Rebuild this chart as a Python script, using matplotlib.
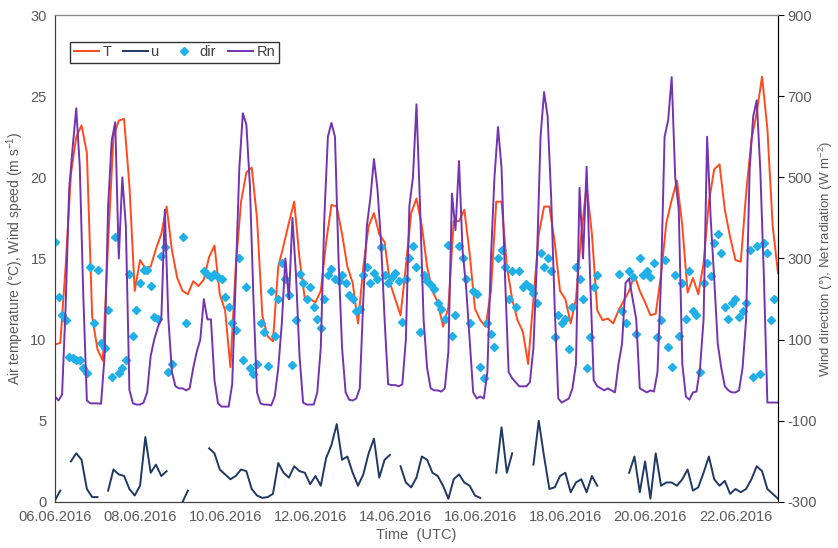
import numpy as np
import pandas as pd
import matplotlib
matplotlib.use('Agg')
import matplotlib.pyplot as plt
from matplotlib.lines import Line2D

plt.rcParams['font.family'] = ['Liberation Sans', 'DejaVu Sans']
plt.rcParams['mathtext.default'] = 'regular'
plt.rcParams['axes.unicode_minus'] = False

nan = np.nan

# air temperature (degC), 3-hourly from 06.06.2016 00:00, one row per day
T = [9.7, 9.8, 14.5, 20.2, 22.5, 23.2, 21.5, 11.4,
     9.4, 8.7, 16.0, 22.5, 23.5, 23.6, 19.5, 13.0,
     14.9, 14.4, 14.5, 15.6, 16.5, 18.2, 15.5, 13.8,
     13.0, 12.8, 13.6, 13.3, 13.7, 15.1, 15.8, 12.8,
     11.8, 8.3, 14.5, 18.5, 20.3, 20.6, 17.5, 11.5,
     10.2, 9.9, 14.5, 15.8, 17.2, 18.5, 15.0, 12.5,
     12.5, 12.3, 13.0, 16.0, 18.3, 18.2, 16.5, 14.5,
     13.5, 11.0, 14.5, 17.0, 17.8, 16.5, 16.0, 13.5,
     12.5, 11.5, 14.5, 17.8, 18.7, 17.0, 14.5, 13.0,
     12.3, 10.8, 12.0, 17.3, 17.3, 18.0, 15.3, 11.9,
     11.2, 10.8, 13.0, 18.5, 18.5, 14.5, 12.5, 11.2,
     10.5, 8.5, 12.5, 16.5, 18.2, 18.2, 16.0, 13.0,
     12.5, 11.0, 12.5, 16.5, 19.5, 16.5, 11.8, 11.2,
     11.3, 11.0, 11.8, 12.4, 13.0, 14.0, 13.0, 12.3,
     11.5, 11.6, 14.0, 17.2, 18.6, 19.8, 17.0, 12.9,
     13.8, 12.8, 14.7, 18.5, 20.5, 20.8, 18.0, 16.3,
     14.9, 14.8, 19.0, 22.3, 24.0, 26.2, 23.0, 17.0,
     14.1]

# wind speed (m/s), 3-hourly, gaps = missing data
u = [0.1, 0.7, nan, 2.5, 3.0, 2.6, 0.8, 0.3,
     0.3, nan, 0.7, 2.0, 1.7, 1.6, 0.8, 0.4,
     1.0, 4.0, 1.8, 2.3, 1.6, 1.9, nan, nan,
     0.0, 0.7, nan, nan, nan, 3.3, 3.0, 2.0,
     1.7, 1.4, 1.6, 2.0, 1.9, 0.8, 0.4, 0.25,
     0.3, 0.5, 2.4, 1.8, 1.5, 2.2, 1.9, 1.8,
     1.1, 1.6, 1.0, 2.7, 3.5, 4.8, 2.6, 2.8,
     1.8, 1.0, 1.7, 3.0, 3.9, 1.5, 2.6, 2.9,
     nan, 2.2, 1.2, 0.9, 1.5, 2.8, 2.6, 1.8,
     1.6, 1.0, 0.2, 1.4, 1.7, 1.2, 1.0, 0.4,
     0.25, nan, nan, 1.8, 4.6, 1.8, 3.0, nan,
     nan, nan, 2.3, 5.0, 2.8, 0.8, 0.9, 1.6,
     1.8, 0.6, 1.2, 1.4, 0.6, 1.6, 1.0, nan,
     nan, nan, 2.2, nan, 1.8, 2.8, 0.6, 2.5,
     0.2, 3.0, 1.0, 1.2, 1.2, 1.0, 1.4, 2.0,
     0.7, 0.9, 1.8, 2.8, 1.4, 1.0, 1.3, 0.5,
     0.8, 0.6, 0.8, 1.4, 2.2, 1.9, 0.8, 0.5,
     0.2]

# net radiation (W/m2), 2-hourly
Rn = [-40, -50, -35, 180, 470, 575, 670, 526, 206, -50, -57, -57,
      -57, -58, 60, 430, 590, 636, 300, 500, 380, -24, -57, -60,
      -60, -55, -30, 60, 100, 130, 150, 420, 150, 20, -15, -20,
      -20, -25, -20, 30, 70, 100, 200, 150, 150, 0, -57, -65,
      -65, -65, -10, 250, 520, 658, 630, 480, 200, -30, -57, -60,
      -60, -62, -40, 30, 140, 300, 200, 400, 260, 60, -55, -60,
      -60, -60, -30, 80, 400, 600, 634, 600, 300, 80, -30, -48,
      -50, -45, -20, 200, 380, 450, 545, 470, 340, 150, -10, -12,
      -12, -15, -10, 100, 430, 500, 680, 430, 150, 30, -20, -25,
      -25, -28, -20, 70, 460, 370, 540, 320, 230, 100, -30, -45,
      -40, -45, 20, 300, 500, 624, 523, 250, 20, 5, -5, -15,
      -15, -15, -5, 80, 300, 600, 710, 650, 450, 180, -45, -55,
      -50, -45, -20, 40, 474, 300, 526, 250, 0, -15, -20, -25,
      -20, -25, -30, 40, 90, 240, 250, 200, 150, -20, -25, -30,
      -25, -28, 20, 250, 600, 640, 747, 500, 420, 40, -40, -48,
      -30, -28, 30, 150, 600, 400, 250, 90, 30, -15, -25, -30,
      -30, -25, 30, 150, 520, 650, 690, 520, 260, -55, -55, -55,
      -55]

# wind direction (deg), 2-hourly
wdir = [341, 206, 160, 148, 58, 55, 50, 50, 30, 17, 280, 140,
        272, 91, 80, 173, 9, 354, 17, 30, 50, 263, 110, 173,
        239, 272, 272, 231, 157, 150, 305, 329, 20, 40, nan, nan,
        354, 140, nan, nan, nan, nan, 270, 263, 255, 263, 255, 250,
        206, 181, 140, 124, 300, 50, 230, 30, 15, 40, 140, 120,
        34, 220, 110, 200, 290, 250, 210, 37, 148, 263, 240, 200,
        230, 180, 150, 128, 200, 260, 275, 250, 245, 260, 240, 210,
        200, 170, 175, 260, 280, 240, 265, 250, 329, 260, 240, 255,
        265, 245, 144, 250, 300, 330, 280, 118, 260, 245, 235, 225,
        190, 175, 150, 334, 110, 160, 330, 300, 250, 140, 220, 213,
        33, 5, 140, 114, 81, 300, 320, 280, 200, 270, 180, 270,
        230, 238, 230, 214, 190, 313, 280, 300, 270, 107, 160, 140,
        150, 78, 180, 280, 250, 200, 30, 107, 230, 260, nan, nan,
        nan, nan, nan, 263, 170, 140, 270, 255, 115, 300, 260, 270,
        255, 288, 107, 148, 297, 82, 33, 260, 110, 240, 150, 270,
        170, 160, 20, 239, 288, 256, 338, 360, 313, 180, 150, 190,
        200, 156, 170, 190, 321, 9, 330, 15, 338, 313, 148, 200]

t3 = pd.date_range('2016-06-06', periods=len(T), freq='3h')
t2 = pd.date_range('2016-06-06', periods=len(Rn), freq='2h')

c_T = '#ff4a1c'
c_u = '#1f3864'
c_dir = '#1eb0e6'
c_Rn = '#7434b0'
grey = '#595959'

fig = plt.figure(figsize=(8.38, 5.48), dpi=100)
ax = fig.add_axes([0.0656, 0.084, 0.8628, 0.8886])
ax2 = ax.twinx()

ax.plot(t3, T, color=c_T, lw=1.4)
ax.plot(t3, u, color=c_u, lw=1.4)
ax2.plot(t2[:len(wdir)], wdir, ls='none', marker='D', ms=4, color=c_dir)
ax2.plot(t2, Rn, color=c_Rn, lw=1.4)

ax.set_xlim(pd.Timestamp('2016-06-06'), pd.Timestamp('2016-06-23'))
ax.set_ylim(0, 30)
ax2.set_ylim(-300, 900)
ax.set_yticks(range(0, 31, 5))
ax2.set_yticks(range(-300, 901, 200))
xt = pd.date_range('2016-06-06', '2016-06-22', freq='2D')
ax.set_xticks(xt)
ax.set_xticklabels([d.strftime('%d.%m.%Y') for d in xt])

ax.tick_params(axis='both', length=0, labelsize=10.5, colors=grey, pad=6)
ax2.tick_params(axis='y', length=4, direction='out', color='black',
                labelsize=10.5, labelcolor=grey, pad=3)

for s in ['left', 'bottom']:
    ax.spines[s].set_color('#404040')
ax2.spines['top'].set_color('#8c8c8c')
ax2.spines['right'].set_color('black')
ax2.spines['left'].set_color('#404040')
ax2.spines['bottom'].set_color('#404040')

ax.set_ylabel('Air temperature (°C), Wind speed (m s$^{-1}$)', color=grey,
              fontsize=10, labelpad=3)
ax2.set_ylabel('Wind direction (°), Net radiation (W m$^{-2}$)', color=grey,
               fontsize=9.5, labelpad=0)
ax.set_xlabel('Time  (UTC)', color=grey, fontsize=10.5, labelpad=3)

handles = [Line2D([], [], color=c_T, lw=1.4),
           Line2D([], [], color=c_u, lw=1.4),
           Line2D([], [], ls='none', marker='D', ms=4, color=c_dir),
           Line2D([], [], color=c_Rn, lw=1.4)]
leg = ax2.legend(handles, ['T', 'u', 'dir', 'Rn'], loc='upper left',
                 bbox_to_anchor=(0.011, 0.96), ncol=4, fontsize=10.5,
                 frameon=True, fancybox=False, edgecolor='black',
                 handlelength=1.7, handletextpad=0.25, columnspacing=0.8,
                 borderpad=0.25, numpoints=1)
leg.get_frame().set_linewidth(1.0)
for txt in leg.get_texts():
    txt.set_color('#404040')

fig.savefig('out.png', dpi=100)
